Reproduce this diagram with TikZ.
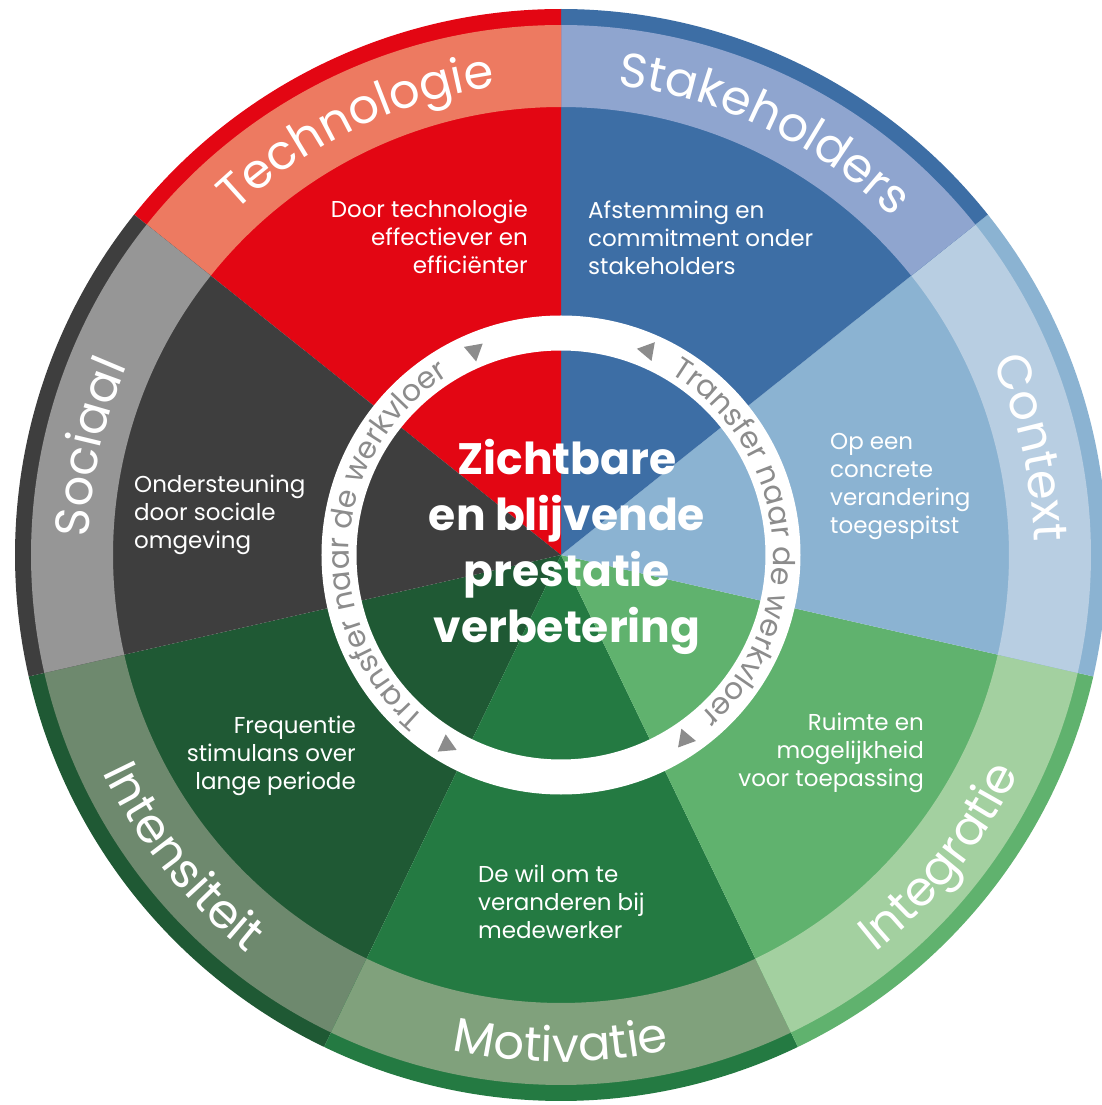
\documentclass[tikz,border=0pt]{standalone}
\usepackage{fontspec}
\setmainfont{Poppins}
\usetikzlibrary{shapes.geometric,decorations.text}
\definecolor{intens}{RGB}{31,89,52}
\definecolor{intensband}{RGB}{110,137,110}
\definecolor{motiv}{RGB}{36,122,66}
\definecolor{motivband}{RGB}{128,161,124}
\definecolor{integ}{RGB}{96,178,110}
\definecolor{integband}{RGB}{163,208,160}
\definecolor{contextblue}{RGB}{139,179,210}
\definecolor{contextband}{RGB}{184,206,226}
\definecolor{stake}{RGB}{61,110,165}
\definecolor{stakeband}{RGB}{143,165,207}
\definecolor{techno}{RGB}{227,6,19}
\definecolor{technoband}{RGB}{237,122,97}
\definecolor{sociaal}{RGB}{62,62,62}
\definecolor{sociaalband}{RGB}{150,150,150}
\definecolor{ringgray}{RGB}{140,140,140}
\newcommand\titlefont{\fontsize{48}{48}\selectfont\color{white}}
\newcommand\ringfont{\fontsize{30}{30}\selectfont\color{ringgray}}
% labels in the outer band, tops outward / tops inward
\newcommand\toplabel[2]{\path[decorate,decoration={text along path,text align=center,text={|\titlefont|#2}}]
  ({#1+25}:473pt) arc[start angle=#1+25,end angle=#1-25,radius=473pt];}
\newcommand\bottomlabel[2]{\path[decorate,decoration={text along path,text align=center,text={|\titlefont|#2}}]
  ({#1-25}:507pt) arc[start angle=#1-25,end angle=#1+25,radius=507pt];}
% text in the white ring, read clockwise
\newcommand\ringlabel[1]{\path[decorate,decoration={text along path,text align=center,text={|\ringfont|Transfer naar de werkvloer}}]
  ({#1+68}:212pt) arc[start angle=#1+68,end angle=#1-68,radius=212pt];}

\begin{document}
\begin{tikzpicture}
  \tikzstyle{desc}=[text=white,font=\fontsize{23}{28}\selectfont,inner sep=0pt]
  \tikzstyle{arrowtip}=[regular polygon,regular polygon sides=3,fill=ringgray,minimum size=22pt,inner sep=0pt]
  \useasboundingbox (-561pt,-550pt) rectangle (541pt,555pt);
  \fill[white] (-561pt,-550pt) rectangle (541pt,555pt);
  \foreach \i/\col/\bcol in {0/intens/intensband,1/motiv/motivband,2/integ/integband,3/contextblue/contextband,
      4/stake/stakeband,5/techno/technoband,6/sociaal/sociaalband}{
    \pgfmathsetmacro\a{-167.143+51.4286*\i}
    \pgfmathsetmacro\b{\a+51.4286}
    \fill[\col] (0,0) -- (\a:546pt) arc[start angle=\a,end angle=\b,radius=546pt] -- cycle;
    \fill[\bcol] (\a:530pt) arc[start angle=\a,end angle=\b,radius=530pt]
      -- (\b:448pt) arc[start angle=\b,end angle=\a,radius=448pt] -- cycle;
  }
  \toplabel{115.714}{Technologie}
  \toplabel{64.286}{Stakeholders}
  \toplabel{12.857}{Context}
  \toplabel{167.143}{Sociaal}
  \bottomlabel{-38.571}{Integratie}
  \bottomlabel{-90}{Motivatie}
  \bottomlabel{-141.429}{Intensiteit}

  \node[desc,anchor=east,align=right] (technotxt) at (-33pt,318pt) {Door technologie\\effectiever en\\efficiënter};
  \node[desc,anchor=west,align=left] (staketxt) at (27pt,317pt) {Afstemming en\\commitment onder\\stakeholders};
  \node[desc,anchor=west,align=left] (contexttxt) at (269pt,69pt) {Op een\\concrete\\verandering\\toegespitst};
  \node[desc,anchor=east,align=right] (integtxt) at (363pt,-198pt) {Ruimte en\\mogelijkheid\\voor toepassing};
  \node[desc,anchor=west,align=left] (motivtxt) at (-83pt,-347pt) {De wil om te\\veranderen bij\\medewerker};
  \node[desc,anchor=east,align=right] (intenstxt) at (-205pt,-201pt) {Frequentie\\stimulans over\\lange periode};
  \node[desc,anchor=west,align=left] (sociaaltxt) at (-427pt,40pt) {Ondersteuning\\door sociale\\omgeving};

  \draw[white,line width=35pt] (0,0) circle[radius=222pt];
  \ringlabel{176}
  \ringlabel{5}
  \node[arrowtip,rotate=-170] (tipnw) at (113:222pt) {};
  \node[arrowtip,rotate=80] (tipne) at (67:222pt) {};
  \node[arrowtip,rotate=5] (tipsw) at (-121:222pt) {};
  \node[arrowtip,rotate=20] (tipse) at (-56:222pt) {};

  \node[text=white,font=\fontsize{44}{56}\selectfont\bfseries,align=center] (goal) at (6pt,8pt)
    {Zichtbare\\en blijvende\\prestatie\\verbetering};
\end{tikzpicture}
\end{document}
